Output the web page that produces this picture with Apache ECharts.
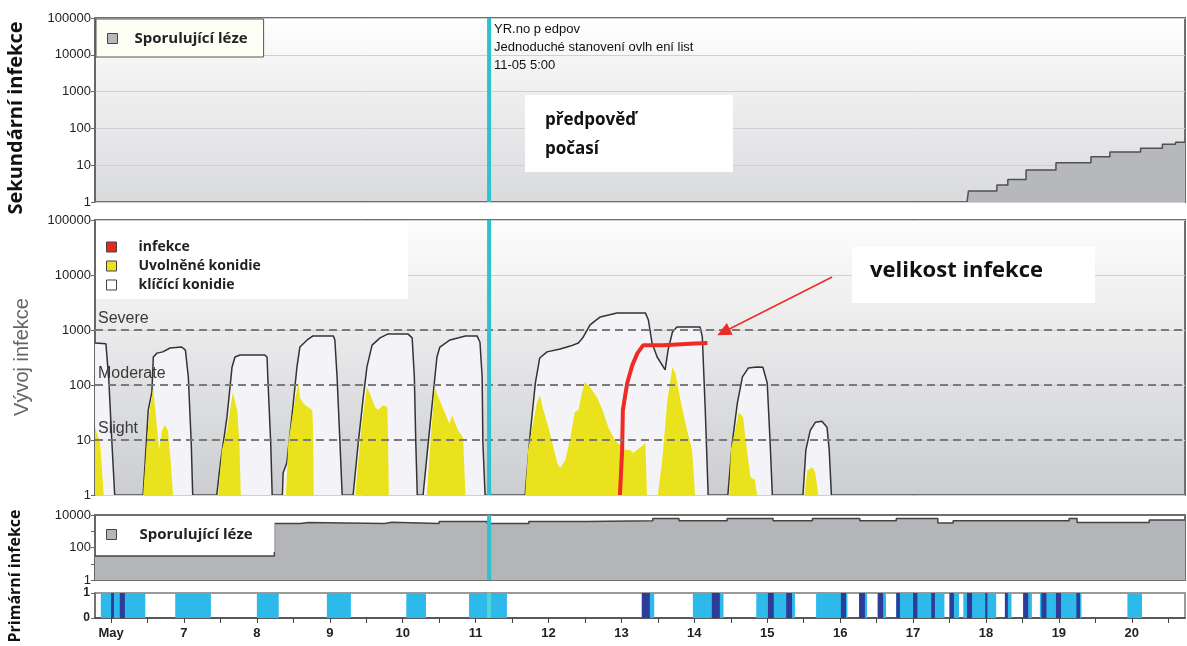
<!DOCTYPE html>
<html>
<head>
<meta charset="utf-8">
<title>Vývoj infekce</title>
<script src="https://cdn.jsdelivr.net/npm/echarts@6/dist/echarts.min.js"></script>
<style>
  html, body { margin: 0; padding: 0; background: #fff; }
  #chart { width: 1187px; height: 646px; }
</style>
</head>
<body>
<div id="chart"></div>
<script>
// osa x: dny v květnu
const dayMin = 5.78;
const dayMax = 20.73;
const dayTicks = [6, 7, 8, 9, 10, 11, 12, 13, 14, 15, 16, 17, 18, 19, 20];
const halfDayTicks = [6, 6.5, 7, 7.5, 8, 8.5, 9, 9.5, 10, 10.5, 11, 11.5, 12, 12.5, 13, 13.5,
  14, 14.5, 15, 15.5, 16, 16.5, 17, 17.5, 18, 18.5, 19, 19.5, 20, 20.5];
const forecastDay = 11.185; // 11-05 5:00

// sekundární infekce - sporulující léze
const secondaryLesions = [[17.74, 1], [17.76, 2], [18.15, 2.9], [18.30, 4.1], [18.55, 7.4], [18.96, 11.7],
  [19.44, 17], [19.70, 23], [20.12, 29], [20.42, 37], [20.60, 42], [20.73, 42]];

// vývoj infekce - klíčící konidie (null = mezera)
const germinating = [
  [5.78, 580], [5.93, 560], [5.97, 120], [6.01, 10], [6.05, 1], null,
  [6.44, 1], [6.47, 4.3], [6.51, 35], [6.56, 74], [6.58, 323], [6.63, 380], [6.71, 400], [6.81, 470], [6.97, 490], [7.02, 430], [7.06, 140], [7.10, 8.8], [7.12, 1], null,
  [7.45, 1], [7.50, 3.8], [7.59, 26], [7.66, 213], [7.70, 323], [7.77, 350], [8.11, 350], [8.14, 320], [8.15, 140], [8.19, 8.8], [8.21, 1], null,
  [8.35, 1], [8.36, 2.5], [8.41, 3.8], [8.48, 26], [8.55, 213], [8.59, 490], [8.69, 660], [8.77, 780], [9.05, 780], [9.07, 660], [9.10, 140], [9.14, 8.8], [9.17, 1], null,
  [9.32, 1], [9.39, 8.8], [9.46, 60], [9.51, 213], [9.58, 530], [9.69, 720], [9.80, 850], [10.07, 850], [10.13, 720], [10.16, 140], [10.18, 8.8], [10.20, 1], null,
  [10.28, 1], [10.35, 8.8], [10.42, 71], [10.47, 323], [10.51, 490], [10.65, 660], [10.86, 780], [11.02, 780], [11.06, 600], [11.09, 140], [11.10, 8.8], [11.13, 1], null,
  [11.68, 1], [11.75, 13.4], [11.82, 109], [11.88, 310], [11.98, 400], [12.16, 450], [12.30, 510], [12.41, 580], [12.47, 720], [12.57, 1240], [12.71, 1730], [12.94, 2030],
  [13.33, 2030], [13.37, 1520], [13.42, 580], [13.49, 323], [13.60, 188], [13.64, 430], [13.70, 920], [13.76, 1130], [14.08, 1130], [14.11, 740], [14.15, 35], [14.19, 1], null,
  [14.46, 1], [14.52, 8.8], [14.59, 47], [14.66, 140], [14.74, 203], [14.86, 213], [14.94, 210], [15.00, 109], [15.04, 8.8], [15.07, 1], null,
  [15.49, 1], [15.53, 6.6], [15.59, 15], [15.66, 21], [15.75, 22], [15.82, 17], [15.85, 6.6], [15.88, 1]
];

// uvolněné konidie
const released = [
  [5.78, 17], [5.85, 8.8], [5.90, 1], null,
  [6.44, 1], [6.49, 8.8], [6.53, 35], [6.58, 92], [6.59, 60], [6.63, 17], [6.66, 6.6], [6.70, 15], [6.74, 19], [6.78, 15], [6.82, 3.8], [6.85, 1], null,
  [7.47, 1], [7.52, 6.6], [7.59, 15], [7.66, 60], [7.67, 74], [7.73, 35], [7.76, 8.8], [7.78, 1], null,
  [8.40, 1], [8.43, 8.8], [8.50, 35], [8.57, 113], [8.59, 60], [8.63, 47], [8.70, 40], [8.76, 35], [8.77, 17], [8.78, 1], null,
  [9.35, 1], [9.37, 2.1], [9.44, 20], [9.51, 92], [9.55, 71], [9.62, 40], [9.66, 35], [9.73, 43], [9.79, 40], [9.80, 8.8], [9.81, 1], null,
  [10.33, 1], [10.38, 8.8], [10.44, 92], [10.49, 60], [10.58, 31], [10.64, 20], [10.68, 28], [10.72, 20], [10.76, 15], [10.83, 11], [10.86, 1], null,
  [11.68, 1], [11.72, 6.6], [11.84, 47], [11.88, 66], [11.93, 35], [12.02, 13.4], [12.12, 3.8], [12.16, 3.1], [12.23, 4.3], [12.30, 11], [12.36, 32], [12.41, 35],
  [12.46, 74], [12.50, 113], [12.57, 92], [12.67, 58], [12.74, 35], [12.82, 17], [12.91, 10], [12.95, 8.8], [13.05, 6.6], [13.12, 6.6], [13.16, 5.8], [13.26, 7.4], [13.33, 8.8], [13.35, 1], null,
  [13.50, 1], [13.56, 4.3], [13.63, 53], [13.70, 213], [13.74, 165], [13.81, 53], [13.90, 15], [13.97, 6.6], [14.01, 1], null,
  [14.48, 1], [14.50, 6.6], [14.56, 15], [14.61, 32], [14.67, 26], [14.71, 8.8], [14.77, 2.1], [14.83, 1.9], [14.86, 1], null,
  [15.51, 1], [15.55, 2.8], [15.62, 3.2], [15.66, 2.5], [15.70, 1]
];

// infekce
const infection = [[12.98, 1], [13.01, 6.6], [13.02, 35], [13.08, 109], [13.15, 230], [13.22, 380], [13.30, 530],
  [13.57, 530], [13.94, 560], [14.18, 580]];

// prahy závažnosti
const severityLevels = [10, 100, 1000];
const severityNames = ['Slight', 'Moderate', 'Severe'];

// šipka "velikost infekce"
const arrowFrom = [15.89, 9200];
const arrowTo = [14.40, 920];

// primární infekce - sporulující léze
const primaryLesions = [[5.78, 30], [8.24, 3000], [8.60, 3500], [8.70, 3000], [9.75, 3600], [9.85, 3000], [10.50, 4000],
  [11.16, 3000], [11.73, 4000], [12.52, 4500], [13.43, 6000], [13.79, 4500], [14.45, 6000], [15.08, 4500], [15.62, 6000],
  [16.27, 4500], [16.77, 6000], [17.34, 3200], [17.55, 4500], [19.14, 6000], [19.25, 3500], [20.24, 5000], [20.73, 5000]];

// ovlhčení listu (světle modrá) a rizikové hodiny (tmavě modrá) [od, do]
const wetPeriods = [[5.86, 6.47], [6.88, 7.37], [8.00, 8.30], [8.96, 9.29], [10.05, 10.32], [10.91, 11.43],
  [13.28, 13.45], [13.98, 14.40], [14.85, 15.38], [15.67, 16.10], [16.26, 16.37], [16.51, 16.63], [16.77, 17.43],
  [17.50, 17.63], [17.69, 18.14], [18.26, 18.35], [18.51, 18.63], [18.74, 19.31], [19.94, 20.14]];
const riskPeriods = [[6.00, 6.04], [6.12, 6.19], [13.28, 13.39], [14.24, 14.35], [15.01, 15.09], [15.26, 15.34],
  [16.01, 16.08], [16.26, 16.34], [16.52, 16.59], [16.77, 16.82], [17.00, 17.06], [17.25, 17.30], [17.50, 17.56],
  [17.74, 17.81], [17.99, 18.02], [18.26, 18.30], [18.51, 18.58], [18.76, 18.83], [18.96, 19.03], [19.24, 19.29]];

const axisFont = 'Liberation Sans, Arial, sans-serif';
const boldFont = '"Open Sans", "Noto Sans", sans-serif';

function withGaps(list) {
  return list.map(p => p === null ? ['-', '-'] : p);
}

function dayAxis(i, showLabels) {
  return {
    type: 'value', gridIndex: i, min: dayMin, max: dayMax,
    axisLine: { show: showLabels, lineStyle: { color: '#444', width: 1.5 } },
    axisTick: { show: showLabels, customValues: halfDayTicks, length: 5, lineStyle: { color: '#444' } },
    axisLabel: {
      show: showLabels, customValues: dayTicks, margin: 9,
      formatter: v => v === 6 ? 'May' : String(v),
      fontFamily: axisFont, fontWeight: 'bold', fontSize: 13, color: '#222'
    },
    splitLine: { show: false }
  };
}

function logAxis(i, max, labelFilter) {
  return {
    type: 'log', logBase: 10, gridIndex: i, min: 1, max: max,
    axisLine: { show: true, lineStyle: { color: '#666', width: 1.5 } },
    axisTick: { show: true, length: 4, lineStyle: { color: '#666' } },
    axisLabel: {
      margin: 4, fontFamily: axisFont, fontSize: 13, color: '#222',
      formatter: v => {
        const e = Math.round(Math.log10(v));
        return labelFilter(e) ? String(Math.round(v)) : '';
      }
    },
    splitLine: { show: i < 2, lineStyle: { color: '#cfd0d2', width: 1 } }
  };
}

function gradient(top, mid, bottom) {
  return {
    type: 'linear', x: 0, y: 0, x2: 0, y2: 1,
    colorStops: [{ offset: 0, color: top }, { offset: 0.35, color: mid }, { offset: 1, color: bottom }]
  };
}

function forecastLine(i, yMin, yMax, color) {
  return {
    type: 'line', xAxisIndex: i, yAxisIndex: i, silent: true, z: 10,
    showSymbol: false, data: [[forecastDay, yMin], [forecastDay, yMax]],
    lineStyle: { color: color || '#2cc3cf', width: 4 }
  };
}

function renderPeriod(params, api) {
  const a = api.coord([api.value(0), 1]);
  const b = api.coord([api.value(1), 0]);
  return {
    type: 'rect',
    shape: { x: a[0], y: a[1], width: Math.max(b[0] - a[0], 1), height: b[1] - a[1] },
    style: { fill: api.visual('color') }
  };
}

const chart = echarts.init(document.getElementById('chart'));
chart.setOption({
  animation: false,
  grid: [
    { left: 95, right: 2, top: 18, height: 184, show: true, borderColor: '#6e6e6e', borderWidth: 2,
      backgroundColor: gradient('#ffffff', '#f1f1f2', '#d9dadc') },
    { left: 95, right: 2, top: 220, height: 275, show: true, borderColor: '#6e6e6e', borderWidth: 2,
      backgroundColor: gradient('#fdfdfd', '#ededee', '#cbcdd0') },
    { left: 95, right: 2, top: 515, height: 65, show: true, borderColor: '#6e6e6e', borderWidth: 2,
      backgroundColor: '#ffffff' },
    { left: 95, right: 2, top: 593, height: 25, show: true, borderColor: '#7a7a7a', borderWidth: 1.5,
      backgroundColor: '#ffffff' }
  ],
  xAxis: [dayAxis(0, false), dayAxis(1, false), dayAxis(2, false), dayAxis(3, true)],
  yAxis: [
    logAxis(0, 100000, () => true),
    logAxis(1, 100000, () => true),
    logAxis(2, 10000, e => e % 2 === 0),
    {
      type: 'value', gridIndex: 3, min: 0, max: 1, interval: 1,
      axisLine: { show: true, lineStyle: { color: '#666', width: 1.5 } },
      axisTick: { show: true, length: 4, lineStyle: { color: '#666' } },
      axisLabel: { margin: 5, fontFamily: axisFont, fontSize: 12, fontWeight: 'bold', color: '#222' },
      splitLine: { show: false }
    }
  ],
  legend: [
    {
      left: 96, top: 19, orient: 'vertical', selectedMode: false, icon: 'rect',
      itemWidth: 10, itemHeight: 10, padding: [12, 16, 11, 11],
      backgroundColor: '#fffef4', borderColor: '#555', borderWidth: 1,
      textStyle: { fontFamily: boldFont, fontWeight: 'bold', fontSize: 15, color: '#222', padding: [0, 0, 0, 12] },
      data: [{ name: 'Sporulující léze', itemStyle: { color: '#b7b8bc', borderColor: '#444', borderWidth: 1 } }]
    },
    {
      left: 96, top: 221, orient: 'vertical', selectedMode: false, icon: 'rect',
      itemWidth: 10, itemHeight: 10, itemGap: 5, padding: [19, 147, 7, 10],
      backgroundColor: '#ffffff',
      textStyle: { fontFamily: boldFont, fontWeight: 'bold', fontSize: 14, color: '#222', padding: [0, 0, 0, 17] },
      data: [
        { name: 'infekce', itemStyle: { color: '#e8261e', borderColor: '#444', borderWidth: 1 } },
        { name: 'Uvolněné konidie', itemStyle: { color: '#eae21c', borderColor: '#444', borderWidth: 1 } },
        { name: 'klíčící konidie', itemStyle: { color: '#ffffff', borderColor: '#444', borderWidth: 1 } }
      ]
    },
    {
      left: 96, top: 516, orient: 'vertical', selectedMode: false, icon: 'rect',
      itemWidth: 10, itemHeight: 10, padding: [11, 22, 10, 10],
      backgroundColor: '#ffffff',
      textStyle: { fontFamily: boldFont, fontWeight: 'bold', fontSize: 15, color: '#222', padding: [0, 0, 0, 18] },
      data: [{ name: 'Sporulující léze', itemStyle: { color: '#b3b5b9', borderColor: '#444', borderWidth: 1 } }]
    }
  ],
  graphic: [
    { type: 'text', left: 494, top: 20, z: 10,
      style: { text: 'YR.no p edpov\nJednoduché stanovení ovlh ení list\n11-05 5:00',
        font: '13px Liberation Sans, Arial, sans-serif', lineHeight: 18, fill: '#111' } },
    { type: 'rect', shape: { x: 525, y: 95, width: 208, height: 77 }, style: { fill: '#ffffff' }, z: 10 },
    { type: 'text', left: 545, top: 106, z: 11,
      style: { text: 'předpověď\npočasí', font: 'bold 17px "Open Sans", sans-serif', lineHeight: 29, fill: '#111' } },
    { type: 'rect', shape: { x: 852, y: 247, width: 243, height: 56 }, style: { fill: '#ffffff' }, z: 10 },
    { type: 'text', left: 870, top: 260, z: 11,
      style: { text: 'velikost infekce', font: 'bold 22px "Open Sans", sans-serif', fill: '#111' } },
    { type: 'text', x: 16, y: 118, rotation: Math.PI / 2, z: 10,
      style: { text: 'Sekundární infekce', font: 'bold 20px "Open Sans", sans-serif', fill: '#111',
        align: 'center', verticalAlign: 'middle' } },
    { type: 'text', x: 22, y: 357, rotation: Math.PI / 2, z: 10,
      style: { text: 'Vývoj infekce', font: '20px Liberation Sans, Arial, sans-serif', fill: '#666',
        align: 'center', verticalAlign: 'middle' } },
    { type: 'text', x: 15, y: 576, rotation: Math.PI / 2, z: 10,
      style: { text: 'Primární infekce', font: 'bold 16px "Open Sans", sans-serif', fill: '#111',
        align: 'center', verticalAlign: 'middle' } }
  ],
  series: [
    {
      name: 'Sporulující léze', type: 'line', xAxisIndex: 0, yAxisIndex: 0, step: 'end', showSymbol: false,
      data: secondaryLesions, lineStyle: { color: '#505050', width: 1.5 },
      itemStyle: { color: '#b7b8bc' }, areaStyle: { color: '#b7b8bc', opacity: 1, origin: 'start' }, z: 2
    },
    forecastLine(0, 1, 100000),
    {
      name: 'klíčící konidie', type: 'line', xAxisIndex: 1, yAxisIndex: 1, showSymbol: false, connectNulls: false,
      data: withGaps(germinating), lineStyle: { color: '#333', width: 1.5 },
      itemStyle: { color: '#f4f4f8' }, areaStyle: { color: '#f4f4f8', opacity: 1, origin: 'start' }, z: 2
    },
    {
      name: 'Uvolněné konidie', type: 'line', xAxisIndex: 1, yAxisIndex: 1, showSymbol: false, connectNulls: false,
      data: withGaps(released), lineStyle: { width: 0 },
      itemStyle: { color: '#eae21c' }, areaStyle: { color: '#eae21c', opacity: 1, origin: 'start' }, z: 3,
      markLine: {
        silent: true, symbol: ['none', 'none'],
        lineStyle: { color: '#7a7a7c', width: 2, type: [8, 5] },
        label: { show: true, position: 'insideStartTop', distance: [3, 3], color: '#3a3a3a', fontSize: 16,
          fontFamily: axisFont, formatter: p => p.name },
        data: severityLevels.map((v, k) => ({ yAxis: v, name: severityNames[k] }))
      }
    },
    {
      name: 'infekce', type: 'line', xAxisIndex: 1, yAxisIndex: 1, showSymbol: false,
      data: infection, lineStyle: { color: '#ee2b24', width: 4 }, itemStyle: { color: '#ee2b24' }, z: 4,
      markLine: {
        silent: true, symbol: ['none', 'triangle'], symbolSize: [13, 14],
        lineStyle: { color: '#ee2b24', width: 1.5, type: 'solid' }, label: { show: false },
        data: [[{ coord: arrowFrom }, { coord: arrowTo }]]
      }
    },
    forecastLine(1, 1, 100000),
    {
      name: 'Sporulující léze', type: 'line', xAxisIndex: 2, yAxisIndex: 2, step: 'end', showSymbol: false,
      data: primaryLesions, lineStyle: { color: '#444', width: 1.5 },
      itemStyle: { color: '#b3b5b9' }, areaStyle: { color: '#b3b5b9', opacity: 1, origin: 'start' }, z: 2
    },
    forecastLine(2, 1, 10000),
    {
      name: 'ovlhčení', type: 'custom', xAxisIndex: 3, yAxisIndex: 3, renderItem: renderPeriod,
      encode: { x: [0, 1] }, data: wetPeriods, itemStyle: { color: '#2db9ea' }, z: 2, silent: true
    },
    {
      name: 'riziko', type: 'custom', xAxisIndex: 3, yAxisIndex: 3, renderItem: renderPeriod,
      encode: { x: [0, 1] }, data: riskPeriods, itemStyle: { color: '#2c3c98' }, z: 3, silent: true
    },
    forecastLine(3, 0, 1, '#52d4d6')
  ]
});
</script>
</body>
</html>
